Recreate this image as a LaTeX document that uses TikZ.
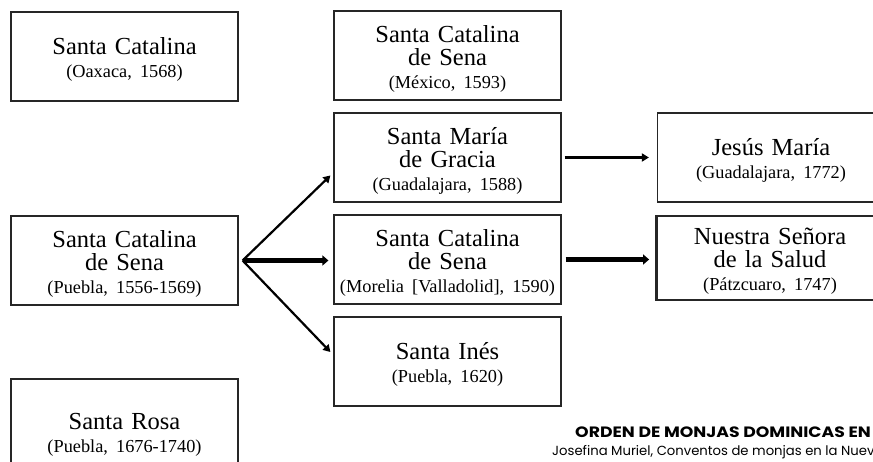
\documentclass[tikz,border=0pt]{standalone}
\usepackage{fontspec}
\setmainfont[WordSpace=0.8]{Liberation Serif}
\newfontfamily\captionfont{Poppins}
\newfontfamily\titlefont[FakeStretch=1.15]{Poppins}
\usetikzlibrary{arrows.meta,calc,positioning}
\newcommand{\conventplace}[1]{{\fontsize{18.3}{23}\selectfont #1}}

\begin{document}
\begin{tikzpicture}[x=1pt,y=-1pt,
  conventbox/.style={draw=black!85,line width=1.2pt,fill=white,
    text width=222pt,minimum width=227pt,minimum height=89pt,align=center,
    inner sep=0pt,font=\fontsize{24.5}{23}\selectfont,
    execute at begin node={\rule{0pt}{23pt}}},
  conventflow/.style={-{Triangle[length=7pt,width=8pt]},line width=2.2pt},
  conventheavy/.style={-{Triangle[length=6pt,width=10pt]},line width=4.4pt},
  conventtitle/.style={anchor=base west,inner sep=0pt}
]
  \useasboundingbox (0,0) rectangle (873,462);
  \clip (0,0) rectangle (873,462);

  \node[conventbox] (oaxaca) at (124.5,56.5)
    {Santa Catalina\\\conventplace{(Oaxaca, 1568)}};
  \node[conventbox] (puebla) at (124.5,260.5)
    {Santa Catalina\\de Sena\\\conventplace{(Puebla, 1556-1569)}};
  \node[conventbox,minimum height=105pt] (rosa) at (124.5,431.5)
    {Santa Rosa\\\conventplace{(Puebla, 1676-1740)}};

  \node[conventbox] (mexico) at (447.5,55.5)
    {Santa Catalina\\de Sena\\\conventplace{(México, 1593)}};
  \node[conventbox] (maria) at (447.5,157.5)
    {Santa María\\de Gracia\\\conventplace{(Guadalajara, 1588)}};
  \node[conventbox] (morelia) at (447.5,259.5)
    {Santa Catalina\\de Sena\\\conventplace{(Morelia [Valladolid], 1590)}};
  \node[conventbox] (ines) at (447.5,361.5)
    {Santa Inés\\\conventplace{(Puebla, 1620)}};

  \node[conventbox] (jesus) at (771,157.5)
    {Jesús María\\\conventplace{(Guadalajara, 1772)}};
  \node[conventbox,line width=2.8pt,minimum height=84pt] (salud) at (770,258)
    {Nuestra Señora\\de la Salud\\\conventplace{(Pátzcuaro, 1747)}};

  \coordinate (fan) at ([xshift=4pt]puebla.east);
  \coordinate (heavystart) at ([xshift=4pt]morelia.east);
  \draw[conventflow] (fan) -- ([xshift=-3pt,yshift=-18pt]maria.west);
  \draw[conventheavy,shorten >=5pt] (fan) -- (fan -| morelia.west);
  \draw[conventflow] (fan) -- ([xshift=-3pt,yshift=9.5pt]ines.west);
  \draw[conventflow] ([xshift=3pt]maria.east) -- ([xshift=-8pt]jesus.west);
  \draw[conventheavy,shorten >=6pt] (heavystart) -- (heavystart -| salud.west);

  \node[conventtitle,font=\titlefont\bfseries\fontsize{15}{17}\selectfont]
    (title) at (575,437) {ORDEN DE MONJAS DOMINICAS EN};
  \node[conventtitle,font=\captionfont\fontsize{13.2}{15}\selectfont]
    (source) at (552,455) {Josefina Muriel, Conventos de monjas en la Nuev};
\end{tikzpicture}
\end{document}
